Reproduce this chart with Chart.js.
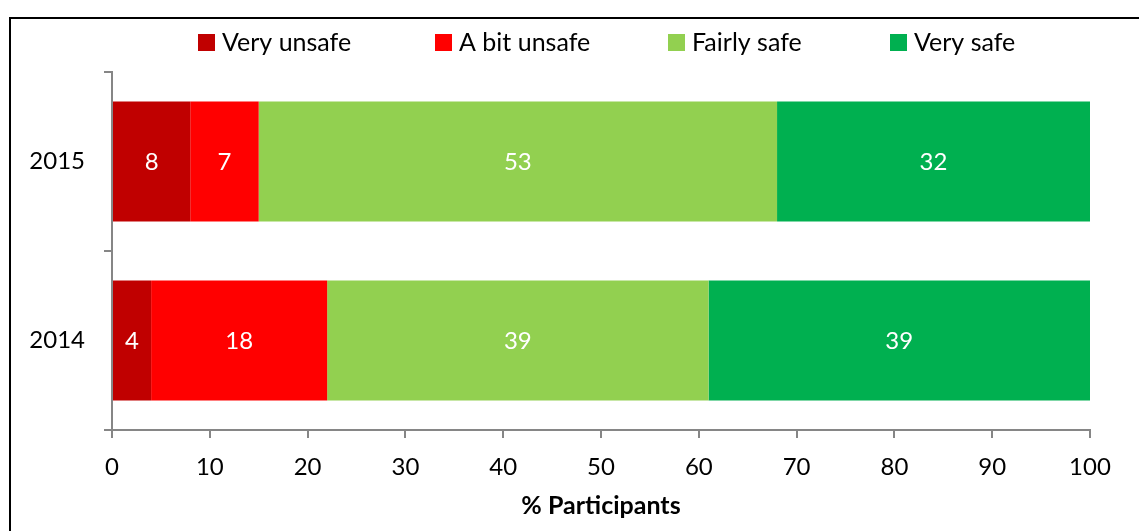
<!DOCTYPE html>
<html>
<head>
<meta charset="utf-8">
<script src="https://cdn.jsdelivr.net/npm/chart.js@4"></script>
<style>
  html, body { margin: 0; padding: 0; background: #fff; }
  #wrap { width: 1139px; height: 531px; }
</style>
</head>
<body>
<div id="wrap"><canvas id="chart" width="1139" height="531"></canvas></div>
<script>
const years = ['2015', '2014'];
const veryUnsafe = [8, 4];
const bitUnsafe = [7, 18];
const fairlySafe = [53, 39];
const verySafe = [32, 39];
const seriesNames = ['Very unsafe', 'A bit unsafe', 'Fairly safe', 'Very safe'];
const seriesColors = ['#C00000', '#FF0000', '#92D050', '#00B050'];
const xTicks = [0, 10, 20, 30, 40, 50, 60, 70, 80, 90, 100];

const FONT = 'Lato, "Open Sans", sans-serif';
const axisGrey = '#868686';

// outer frame of the original figure
const framePlugin = {
  id: 'frame',
  beforeDraw(chart) {
    const ctx = chart.ctx;
    ctx.save();
    ctx.strokeStyle = '#000';
    ctx.lineWidth = 2;
    ctx.strokeRect(10, 18, 1200, 600);
    ctx.restore();
  }
};

// white value labels inside segments
const valueLabels = {
  id: 'valueLabels',
  afterDatasetsDraw(chart) {
    const ctx = chart.ctx;
    ctx.save();
    ctx.fillStyle = '#fff';
    ctx.font = '24px ' + FONT;
    ctx.textAlign = 'center';
    ctx.textBaseline = 'middle';
    chart.data.datasets.forEach((ds, i) => {
      chart.getDatasetMeta(i).data.forEach((bar, j) => {
        const p = bar.getProps(['x', 'y', 'base'], true);
        ctx.fillText(ds.data[j], (p.x + p.base) / 2, p.y + 1);
      });
    });
    ctx.restore();
  }
};

// legend row drawn like the spreadsheet one
const legendRow = {
  id: 'legendRow',
  afterDraw(chart) {
    const ctx = chart.ctx;
    ctx.save();
    ctx.font = '25px ' + FONT;
    ctx.textBaseline = 'middle';
    const starts = [198, 435, 668, 890];
    chart.data.datasets.forEach((ds, i) => {
      const x = starts[i];
      ctx.fillStyle = ds.backgroundColor;
      ctx.fillRect(x, 34, 17, 17);
      ctx.fillStyle = '#000';
      ctx.fillText(ds.label, x + 24, 43);
    });
    ctx.restore();
  }
};

const datasets = [veryUnsafe, bitUnsafe, fairlySafe, verySafe].map((vals, i) => ({
  label: seriesNames[i],
  data: vals,
  backgroundColor: seriesColors[i],
  borderWidth: 0,
  categoryPercentage: 1,
  barPercentage: 0.67
}));

new Chart(document.getElementById('chart'), {
  type: 'bar',
  data: { labels: years, datasets },
  options: {
    indexAxis: 'y',
    responsive: false,
    animation: false,
    layout: { padding: { top: 72, right: 49, left: 0, bottom: 0 } },
    plugins: {
      legend: { display: false },
      tooltip: { enabled: false }
    },
    scales: {
      x: {
        stacked: true,
        min: 0,
        max: 100,
        afterBuildTicks(scale) {
          scale.ticks = xTicks.map(v => ({ value: v }));
        },
        grid: {
          drawOnChartArea: false,
          drawTicks: true,
          tickLength: 8,
          color: axisGrey,
          lineWidth: 2
        },
        border: { color: axisGrey, width: 2 },
        ticks: {
          color: '#000',
          padding: 15,
          font: { family: FONT, size: 24 }
        },
        title: {
          display: true,
          text: '% Participants',
          color: '#000',
          font: { family: FONT, size: 25, weight: 'bold' },
          padding: { top: 4, bottom: 10 }
        },
        afterFit(scale) { scale.height = 101; }
      },
      y: {
        stacked: true,
        grid: {
          offset: true,
          drawOnChartArea: false,
          drawTicks: true,
          tickLength: 8,
          color: axisGrey,
          lineWidth: 2
        },
        border: { color: axisGrey, width: 2 },
        ticks: {
          color: '#000',
          padding: 19,
          font: { family: FONT, size: 24 }
        },
        afterFit(scale) { scale.width = 112; }
      }
    }
  },
  plugins: [framePlugin, valueLabels, legendRow]
});
</script>
</body>
</html>
